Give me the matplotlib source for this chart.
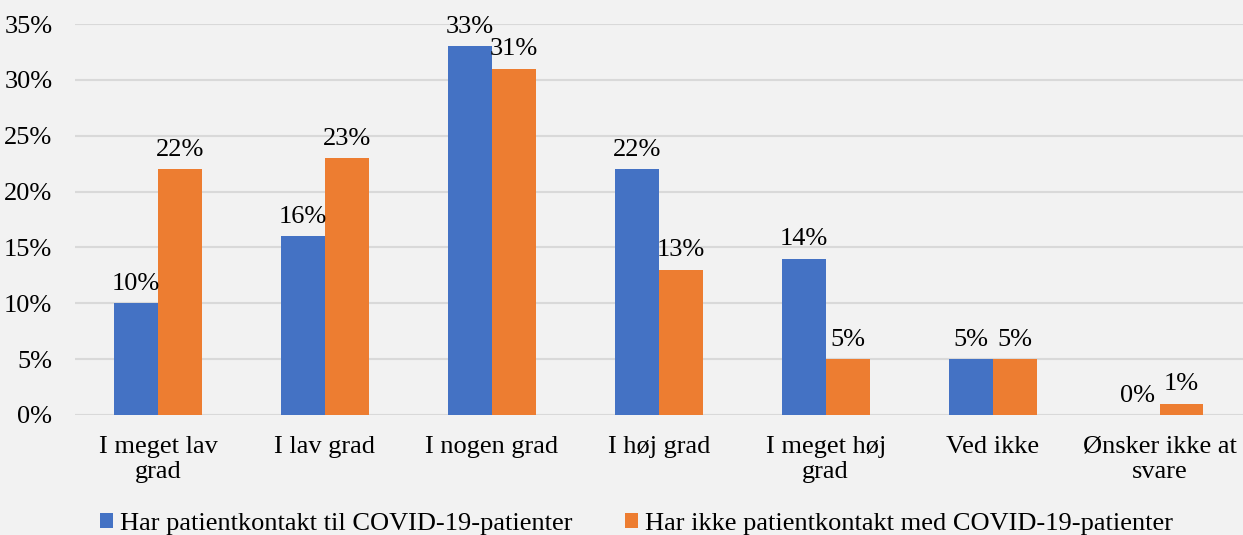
import matplotlib
matplotlib.use("Agg")
import matplotlib.pyplot as plt
import numpy as np

categories = ["I meget lav\ngrad", "I lav grad", "I nogen grad", "I høj grad",
              "I meget høj\ngrad", "Ved ikke", "Ønsker ikke at\nsvare"]
series_names = ["Har patientkontakt til COVID-19-patienter",
                "Har ikke patientkontakt med COVID-19-patienter"]
with_contact = [10, 16, 33, 22, 14, 5, 0]
without_contact = [22, 23, 31, 13, 5, 5, 1]
yticks = [0, 5, 10, 15, 20, 25, 30, 35]

plt.rcParams['font.family'] = ['Liberation Serif', 'DejaVu Serif']
FS = 19
bg = "#F2F2F2"
fig = plt.figure(figsize=(12.43, 5.35), dpi=100, facecolor=bg)
ax = fig.add_axes([0.06, 0.2243, 0.94, 0.7308], facecolor=bg)

x = np.arange(len(categories))
w = 0.263
colors = ["#4472C4", "#ED7D31"]
b1 = ax.bar(x - w/2, with_contact, w, color=colors[0], label=series_names[0], zorder=3)
b2 = ax.bar(x + w/2, without_contact, w, color=colors[1], label=series_names[1], zorder=3)
for bars, vals in ((b1, with_contact), (b2, without_contact)):
    for r, v in zip(bars, vals):
        ax.annotate(f"{v}%", (r.get_x() + r.get_width()/2, v), xytext=(0, 6),
                    textcoords="offset points", ha="center", va="bottom", fontsize=FS)

ax.set_xlim(-0.5, len(categories) - 0.5)
ax.set_ylim(0, 35)
ax.set_yticks(yticks)
ax.set_yticklabels([f"{t}%" for t in yticks], fontsize=FS)
ax.set_xticks(x)
ax.set_xticklabels(categories, fontsize=FS, linespacing=1.2)
ax.tick_params(axis="x", length=0, pad=15)
ax.tick_params(axis="y", length=0, pad=16)
ax.grid(axis="y", color="#D9D9D9", linewidth=1.5, zorder=0)
for s in ax.spines.values():
    s.set_visible(False)

fig.legend(handles=[b1, b2], labels=series_names, loc="center",
           bbox_to_anchor=(0.512, 0.02), ncol=2, frameon=False,
           fontsize=FS, handlelength=0.5, handleheight=0.5, handletextpad=0.25,
           columnspacing=2.0, borderaxespad=0, borderpad=0)
fig.savefig("out.png", dpi=100, facecolor=bg)
